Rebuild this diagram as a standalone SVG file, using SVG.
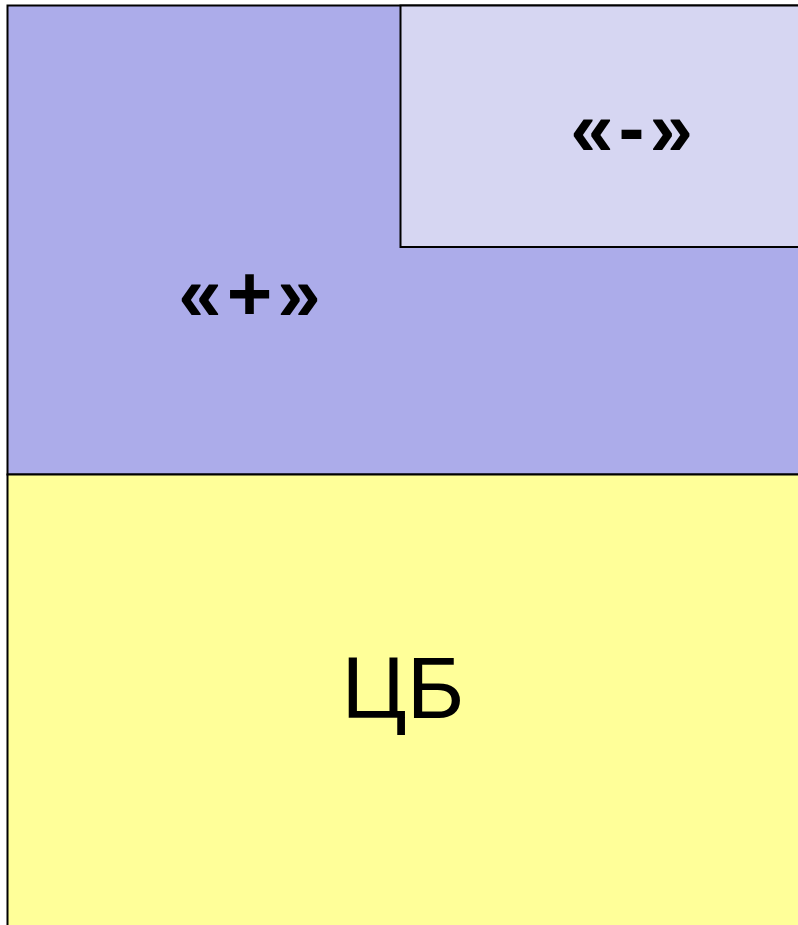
<svg xmlns="http://www.w3.org/2000/svg" width="798" height="925" viewBox="0 0 798 925">
<style>
.box{stroke:#000;stroke-width:2}
.lbl{font-family:"Liberation Sans",Arial,sans-serif;text-anchor:middle;fill:#000}
.q{font-weight:bold;font-size:78px;letter-spacing:5px}
</style>
<rect width="798" height="925" fill="#fff"/>
<g id="plus">
<rect class="box" x="7.5" y="5.5" width="800" height="469" fill="#ACACEA"/>
<text class="lbl q" x="252" y="320">«+»</text>
</g>
<g id="minus">
<rect class="box" x="400.5" y="5.5" width="410" height="241.5" fill="#D6D6F2"/>
<text class="lbl q" x="634" y="155">«-»</text>
</g>
<g id="cb">
<rect class="box" x="7.5" y="474.5" width="800" height="460" fill="#FFFF99"/>
<text class="lbl" x="403" y="718" font-size="88">ЦБ</text>
</g>
<g id="connectors"/>
</svg>
